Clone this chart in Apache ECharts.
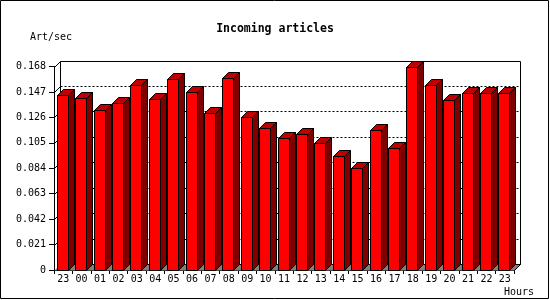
<!DOCTYPE html>
<html>
<head>
<meta charset="utf-8">
<script src="https://cdn.jsdelivr.net/npm/echarts@6/dist/echarts.min.js"></script>
<style>html,body{margin:0;padding:0;background:#fff;}#main{width:550px;height:300px;}</style>
</head>
<body>
<div id="main"></div>
<script>
const hours = ['23','00','01','02','03','04','05','06','07','08','09','10','11','12','13','14','15','16','17','18','19','20','21','22','23'];
const artPerSec = [0.1445,0.1417,0.1321,0.1376,0.1527,0.1412,0.1577,0.1467,0.1293,0.1582,0.1260,0.1170,0.1087,0.1123,0.1046,0.0941,0.0840,0.1153,0.1005,0.1673,0.1525,0.1403,0.1464,0.1459,0.1459];
const yTicks = [0,0.021,0.042,0.063,0.084,0.105,0.126,0.147,0.168];
const titleText = 'Incoming articles';
const yName = 'Art/sec';
const xName = 'Hours';

const FONT = 'DejaVu Sans Mono';
const D = 6;

const chart = echarts.init(document.getElementById('main'), null, {renderer:'canvas'});

function renderFrame(params, api) {
  const v = api.value(1);
  const bw = api.size([1, 0])[0];
  const p0 = api.coord([0, v]);
  const pN = api.coord([hours.length - 1, v]);
  const L = Math.round(p0[0] - bw / 2) + 0.5;
  const R = Math.round(pN[0] + bw / 2) + 0.5;
  const y = Math.round(p0[1]) + 0.5;
  const B = Math.round(api.coord([0, 0])[1]) + 0.5;
  const children = [];
  const line = (x1, y1, x2, y2, dash) => ({
    type: 'line', shape: {x1, y1, x2, y2},
    style: {stroke: '#000', lineWidth: 1, lineDash: dash || null}
  });
  if (params.dataIndex === 0) {
    children.push({type: 'polygon', shape: {points: [[L, B], [R, B], [R + D, B - D], [L + D, B - D]]},
      style: {fill: '#808080', stroke: null}});
    children.push(line(R, B, R + D, B - D));
    children.push(line(L + D, B - D, R + D, B - D));
  } else if (params.dataIndex === yTicks.length - 1) {
    children.push({type: 'rect', shape: {x: L + D, y: y - D, width: R - L, height: B - y},
      style: {fill: null, stroke: '#000', lineWidth: 1}});
    children.push(line(L, y, L + D, y - D));
  } else {
    children.push(line(L + D, y - D, R + D, y - D, [2, 2]));
    children.push(line(L, y, L + D, y - D));
  }
  return {type: 'group', children};
}

function renderBar(params, api) {
  const i = api.value(0), v = api.value(1);
  const top = api.coord([i, v]);
  const base = api.coord([i, 0]);
  const bw = api.size([1, 0])[0];
  const x1 = Math.round(top[0] - bw / 2 + bw * 0.147) + 0.5;
  const x2 = x1 + Math.round(bw * 0.6);
  const yt = Math.round(top[1]) + 0.5;
  const yb = Math.round(base[1]) + 0.5;
  return {type: 'group', children: [
    {type: 'polygon', shape: {points: [[x2, yt], [x2 + D, yt - D], [x2 + D, yb - D], [x2, yb]]},
      style: {fill: '#800000', stroke: '#000', lineWidth: 1}},
    {type: 'polygon', shape: {points: [[x1, yt], [x1 + D, yt - D], [x2 + D, yt - D], [x2, yt]]},
      style: {fill: '#c00000', stroke: '#000', lineWidth: 1}},
    {type: 'rect', shape: {x: x1, y: yt, width: x2 - x1, height: yb - yt},
      style: {fill: '#ff0000', stroke: '#000', lineWidth: 1}}
  ]};
}

chart.setOption({
  animation: false,
  backgroundColor: '#fff',
  title: {
    text: titleText, left: 'center', top: 18,
    textStyle: {fontFamily: FONT, fontSize: 11.5, fontWeight: 'bold', color: '#000'}
  },
  graphic: [
    {type: 'rect', shape: {x: 0.5, y: 0.5, width: 548, height: 298}, style: {fill: null, stroke: '#000', lineWidth: 1}, z: 100},
    {type: 'text', left: 30, top: 32, style: {text: yName, font: '10px "DejaVu Sans Mono"', fill: '#000'}},
    {type: 'text', left: 504, top: 287, style: {text: xName, font: '10px "DejaVu Sans Mono"', fill: '#000'}}
  ],
  grid: {left: 54, right: 36, top: 66.5, bottom: 30, containLabel: false},
  xAxis: {
    type: 'category', data: hours, boundaryGap: true,
    axisLine: {show: true, lineStyle: {color: '#000', width: 1}},
    axisTick: {show: true, length: 4, interval: 0, lineStyle: {color: '#000'}},
    axisLabel: {interval: 0, margin: 4, color: '#000', fontFamily: FONT, fontSize: 10},
    splitLine: {show: false}
  },
  yAxis: {
    type: 'value', min: 0, max: 0.168, interval: 0.021,
    axisLine: {show: true, lineStyle: {color: '#000', width: 1}},
    axisTick: {show: true, length: 5, lineStyle: {color: '#000'}},
    axisLabel: {margin: 8, color: '#000', fontFamily: FONT, fontSize: 10,
      formatter: v => v === 0 ? '0' : v.toFixed(3)},
    splitLine: {show: false}
  },
  series: [
    {type: 'custom', z: 1, silent: true, renderItem: renderFrame,
      data: yTicks.map(v => [0, v]), encode: {x: 0, y: 1}},
    {type: 'custom', z: 2, silent: true, renderItem: renderBar,
      data: artPerSec.map((v, i) => [i, v]), encode: {x: 0, y: 1}}
  ]
});
</script>
</body>
</html>
